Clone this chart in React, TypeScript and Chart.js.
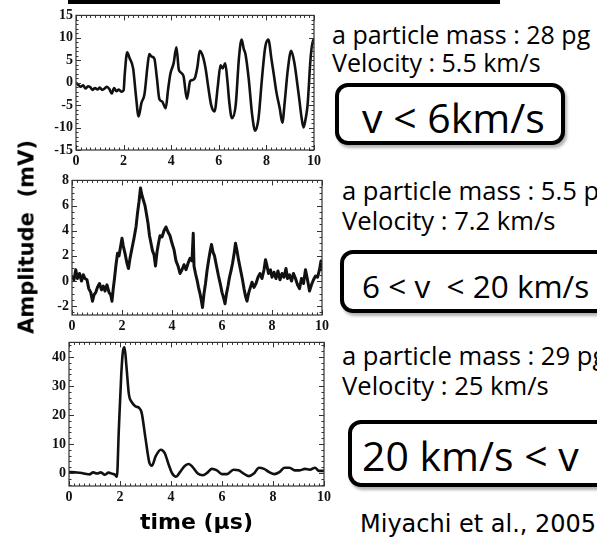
import React, { useEffect, useRef } from "react";
import { Chart, registerables } from "chart.js";
Chart.register(...registerables);

// ---------- data ----------
const TIME_TICKS = [0, 2, 4, 6, 8, 10];

const TOP_T = [0, 0.1, 0.2, 0.3, 0.4, 0.5, 0.6, 0.7, 0.8, 0.9, 1.0, 1.1, 1.2, 1.3, 1.4, 1.5, 1.6, 1.7, 1.8, 1.9, 2.0,
  2.05, 2.15, 2.25, 2.4, 2.52, 2.63, 2.75, 2.88, 3.0, 3.08, 3.18, 3.29, 3.4, 3.5, 3.62, 3.77, 3.87, 3.97, 4.1, 4.22,
  4.32, 4.42, 4.52, 4.66, 4.8, 4.9, 5.0, 5.1, 5.2, 5.34, 5.45, 5.55, 5.68, 5.82, 5.96, 6.07, 6.16, 6.27, 6.36, 6.44,
  6.55, 6.71, 6.85, 6.96, 7.05, 7.12, 7.26, 7.4, 7.53, 7.67, 7.81, 7.95, 8.08, 8.22, 8.32, 8.42, 8.56, 8.67, 8.77,
  8.9, 9.04, 9.18, 9.28, 9.38, 9.47, 9.56, 9.65, 9.73, 9.86, 9.97, 10.0];
const TOP_MV = [0, -0.5, -0.9, -0.6, -1.3, -0.8, -1.0, -1.6, -1.2, -1.5, -1.1, -1.6, -1.3, -0.9, -1.4, -2.4, -1.2, -1.9, -1.5, -2.0, -1.7,
  2.0, 6.8, 5.5, 3.2, -3.0, -7.5, -4.5, -2.5, 3.5, 6.4, 5.8, 5.4, 1.0, -3.6, -4.2, -5.7, -1.5, 2.1, 4.3, 7.9,
  2.9, 2.2, 1.4, -3.6, 0.4, 0.6, 1.1, 3.5, 7.1, 5.7, 3.0, -0.7, -5.0, -6.4, -0.7, 3.9, 3.2, 4.3, 0.5, -4.3,
  -7.9, -5.0, 5.7, 9.6, 7.5, 6.4, 0.7, -7.1, -10.7, -7.9, 0.7, 7.9, 9.6, 5.0, 1.5, -2.1, -5.7, -8.9, -4.3,
  2.9, 7.1, 4.3, 0.5, -3.6, -7.5, -10.0, -8.0, -5.0, 5.7, 9.6, 8.5];
const TOP_Y_TICKS = [-15, -10, -5, 0, 5, 10, 15];

const MID_T = [0.0, 0.08, 0.15, 0.22, 0.3, 0.38, 0.45, 0.52, 0.6, 0.67, 0.75, 0.82, 0.88, 0.95, 1.02, 1.1, 1.18, 1.25,
  1.32, 1.4, 1.48, 1.55, 1.6, 1.65, 1.7, 1.76, 1.82, 1.88, 1.94, 2.0, 2.05, 2.12, 2.2, 2.26, 2.32, 2.4, 2.48, 2.56,
  2.62, 2.68, 2.74, 2.8, 2.86, 2.92, 2.98, 3.04, 3.1, 3.16, 3.22, 3.28, 3.34, 3.4, 3.46, 3.52, 3.6, 3.68, 3.76, 3.84,
  3.92, 4.0, 4.08, 4.16, 4.24, 4.32, 4.4, 4.48, 4.56, 4.64, 4.72, 4.8, 4.85, 4.88, 4.94, 5.0, 5.06, 5.12, 5.18, 5.22,
  5.28, 5.34, 5.4, 5.46, 5.52, 5.58, 5.64, 5.7, 5.78, 5.86, 5.94, 6.0, 6.06, 6.12, 6.18, 6.24, 6.3, 6.36, 6.42, 6.48,
  6.54, 6.6, 6.66, 6.74, 6.82, 6.88, 6.94, 7.0, 7.06, 7.12, 7.2, 7.28, 7.36, 7.44, 7.52, 7.6, 7.68, 7.74, 7.8, 7.86,
  7.94, 8.0, 8.08, 8.16, 8.24, 8.32, 8.4, 8.48, 8.56, 8.62, 8.7, 8.78, 8.86, 8.94, 9.02, 9.1, 9.18, 9.26, 9.34, 9.42,
  9.5, 9.58, 9.66, 9.74, 9.82, 9.9, 9.96, 10.0];
const MID_MV = [0.4, 0.1, 0.9, 0.2, 0.6, 0.0, 0.5, 0.2, 0.1, -0.6, -0.9, -1.6, -1.1, -0.9, -0.5, -0.2, -0.7, -0.4,
  -0.8, -0.3, -0.9, -1.1, -1.6, -0.6, 0.2, 1.3, 2.2, 2.0, 2.7, 3.4, 2.8, 2.2, 1.4, 1.0, 1.8, 2.6, 3.4, 4.3,
  5.4, 6.3, 7.4, 6.8, 6.4, 6.0, 5.3, 4.6, 3.6, 3.0, 2.4, 2.1, 1.2, 2.3, 3.0, 3.6, 3.5, 4.0, 4.3, 3.9,
  3.6, 3.0, 2.5, 1.6, 1.2, 0.6, 0.9, 1.3, 0.9, 1.4, 1.8, 1.6, 3.8, 1.2, 0.6, 0.1, -0.5, -1.0, -1.6, -2.1,
  -1.0, -0.2, 0.8, 1.6, 2.3, 2.9, 2.3, 2.0, 1.2, 0.4, -0.3, -0.9, -1.3, -1.8, -1.0, -0.4, 0.3, 0.8, 1.4, 2.1,
  3.0, 2.4, 1.7, 0.9, 0.1, -0.6, -1.2, -1.6, -1.0, -0.6, -0.1, -0.5, -0.2, 0.3, 0.6, 0.2, 0.9, 1.7, 1.2, 0.6,
  0.9, 0.3, 0.7, 0.2, 0.8, 0.1, 0.6, 0.3, 1.0, 0.2, 0.5, 0.0, 0.6, 0.2, -0.3, -0.6, 0.2, -0.2, 0.9, 0.1,
  -0.8, -0.3, 0.1, 0.4, 0.3, 0.9, 1.6, 0.8];
const MID_Y_TICKS = [-2, 0, 2, 4, 6, 8];

const BOT_T = [0, 0.25, 0.5, 0.65, 0.8, 0.95, 1.1, 1.25, 1.4, 1.55, 1.7, 1.8, 1.88, 1.95, 2.05, 2.12, 2.18, 2.25, 2.35,
  2.45, 2.6, 2.75, 2.85, 3.0, 3.15, 3.25, 3.4, 3.6, 3.75, 3.9, 4.05, 4.2, 4.35, 4.55, 4.7, 4.85, 5.05, 5.25, 5.45,
  5.6, 5.8, 6.0, 6.2, 6.45, 6.65, 6.85, 7.05, 7.25, 7.45, 7.65, 7.85, 8.05, 8.25, 8.45, 8.65, 8.85, 9.05, 9.25, 9.45,
  9.65, 9.8, 10];
const BOT_MV = [0.3, 0.2, 0, -0.3, -0.5, 0.2, -0.2, 0.2, -0.6, 0.1, -0.3, -0.6, -1.3, 14, 34, 42.2, 43.3, 37, 27,
  24.6, 23, 22.4, 20.7, 11.9, 3.6, 2.5, 5.8, 8.0, 6.9, 3.1, -0.2, -1.3, 0.3, 2.5, 3.1, 2.0, -0.2, -0.8, 0.3,
  1.4, 0.9, -0.4, -0.4, 1.1, 0.9, -0.2, -1.1, -0.2, 1.8, 1.4, 0.3, -0.4, 0.3, 1.8, 1.8, 0.9, 0.9, 1.4, 1.1,
  1.8, 0.7, 0.7];
const BOT_Y_TICKS = [0, 10, 20, 30, 40];

// ---------- chart ----------
const AXW = 40;
const AXH = 24;
const PAD = 6;
const TICK_FONT = { family: "'Liberation Serif', serif", size: 14, weight: "bold" as const };

type Box = { l: number; t: number; r: number; b: number };
type ScopeProps = {
  t: number[];
  mv: number[];
  yTicks: number[];
  yMin: number;
  yMax: number;
  yMinor: number;
  box: Box;
  lw: number;
  smooth: boolean;
};

function Scope(p: ScopeProps) {
  const ref = useRef<HTMLCanvasElement>(null);
  const w = AXW + (p.box.r - p.box.l) + PAD;
  const h = PAD + (p.box.b - p.box.t) + AXH;
  useEffect(() => {
    const frame = {
      id: "frame",
      afterDraw(chart: any) {
        const { ctx, chartArea } = chart;
        const { left, right, top, bottom } = chartArea;
        const xs = chart.scales.x;
        const ys = chart.scales.y;
        ctx.save();
        ctx.strokeStyle = "#333";
        ctx.lineWidth = 1.2;
        ctx.strokeRect(left, top, right - left, bottom - top);
        ctx.lineWidth = 1;
        ctx.beginPath();
        for (let i = 0; i <= 50; i++) {
          const v = i * 0.2;
          const px = Math.round(xs.getPixelForValue(v)) + 0.5;
          const len = i % 10 === 0 ? 5 : 2.5;
          ctx.moveTo(px, bottom);
          ctx.lineTo(px, bottom - len);
          ctx.moveTo(px, top);
          ctx.lineTo(px, top + len);
        }
        const n = Math.round((p.yMax - p.yMin) / p.yMinor);
        const start = Math.ceil(p.yMin / p.yMinor) * p.yMinor;
        for (let i = 0; i <= n + 1; i++) {
          const v = start + i * p.yMinor;
          if (v > p.yMax + 1e-9) break;
          const py = Math.round(ys.getPixelForValue(v)) + 0.5;
          const major = p.yTicks.some((tv) => Math.abs(tv - v) < 1e-6);
          const len = major ? 5 : 2.5;
          ctx.moveTo(left, py);
          ctx.lineTo(left + len, py);
          ctx.moveTo(right, py);
          ctx.lineTo(right - len, py);
        }
        ctx.stroke();
        ctx.restore();
      },
    };
    const chart = new Chart(ref.current as HTMLCanvasElement, {
      type: "line",
      data: {
        datasets: [
          {
            data: p.t.map((x, i) => ({ x, y: p.mv[i] })),
            borderColor: "#111",
            borderWidth: p.lw,
            pointRadius: 0,
            fill: false,
            tension: p.smooth ? 0.4 : 0,
            cubicInterpolationMode: p.smooth ? "monotone" : "default",
            borderJoinStyle: "round",
          } as any,
        ],
      },
      options: {
        animation: false,
        responsive: false,
        devicePixelRatio: 1,
        events: [],
        layout: { padding: { top: PAD, right: PAD, left: 0, bottom: 0 }, autoPadding: false } as any,
        plugins: { legend: { display: false }, tooltip: { enabled: false } },
        scales: {
          x: {
            type: "linear",
            min: 0,
            max: 10,
            grid: { display: false, drawTicks: false },
            border: { display: false },
            afterBuildTicks: (s: any) => {
              s.ticks = TIME_TICKS.map((v) => ({ value: v }));
            },
            afterFit: (s: any) => {
              s.height = AXH;
            },
            ticks: { font: TICK_FONT, color: "#111", padding: 3, maxRotation: 0, autoSkip: false },
          },
          y: {
            type: "linear",
            min: p.yMin,
            max: p.yMax,
            grid: { display: false, drawTicks: false },
            border: { display: false },
            afterBuildTicks: (s: any) => {
              s.ticks = p.yTicks.map((v) => ({ value: v }));
            },
            afterFit: (s: any) => {
              s.width = AXW;
            },
            ticks: { font: TICK_FONT, color: "#111", padding: 3, autoSkip: false },
          },
        },
      },
      plugins: [frame],
    });
    return () => chart.destroy();
  }, []);
  return (
    <canvas
      ref={ref}
      width={w}
      height={h}
      style={{ position: "absolute", left: p.box.l - AXW, top: p.box.t - PAD, width: w, height: h }}
    />
  );
}

// ---------- text helpers ----------
const ANNO = "'Open Sans', sans-serif";
const REF = "'DejaVu Sans', sans-serif";
const BOLD = "'DejaVu Sans', sans-serif";

function Txt(props: { x: number; base: number; size: number; family: string; weight?: number; children: any; spacing?: number }) {
  return (
    <div
      style={{
        position: "absolute",
        left: props.x,
        top: props.base - 0.85 * props.size,
        fontSize: props.size,
        lineHeight: `${props.size}px`,
        fontFamily: props.family,
        fontWeight: props.weight ?? 400,
        letterSpacing: props.spacing ?? 0,
        whiteSpace: "nowrap",
        color: "#000",
      }}
    >
      {props.children}
    </div>
  );
}

function RBox(props: { l: number; t: number; r: number; b: number }) {
  return (
    <div
      style={{
        position: "absolute",
        left: props.l,
        top: props.t,
        width: props.r - props.l,
        height: props.b - props.t,
        boxSizing: "border-box",
        border: "4px solid #000",
        borderRadius: 13,
        boxShadow: "2px 3px 3px rgba(0,0,0,0.3)",
        background: "#fff",
      }}
    />
  );
}

export default function App() {
  return (
    <div
      style={{
        position: "fixed",
        left: 0,
        top: 0,
        width: 597,
        height: 540,
        background: "#fff",
        overflow: "hidden",
      }}
    >
      <div style={{ position: "absolute", left: 68, top: 0, width: 432, height: 4, background: "#000" }} />

      <Scope t={TOP_T} mv={TOP_MV} yTicks={TOP_Y_TICKS} yMin={-15} yMax={15} yMinor={1}
        box={{ l: 76, t: 10, r: 318, b: 150 }} lw={2.6} smooth={true} />
      <Scope t={MID_T} mv={MID_MV} yTicks={MID_Y_TICKS} yMin={-2.7} yMax={8} yMinor={0.5}
        box={{ l: 72, t: 175, r: 326, b: 315 }} lw={3} smooth={false} />
      <Scope t={BOT_T} mv={BOT_MV} yTicks={BOT_Y_TICKS} yMin={-4.5} yMax={45} yMinor={2}
        box={{ l: 69, t: 337, r: 328, b: 486 }} lw={2.6} smooth={true} />

      <Txt x={332} base={43} size={25} family={ANNO}>a particle mass : 28 pg</Txt>
      <Txt x={332} base={71} size={25} family={ANNO}>Velocity : 5.5 km/s</Txt>
      <RBox l={335} t={83} r={565} b={145} />
      <Txt x={362} base={132} size={41} family={ANNO}>v &lt; 6km/s</Txt>

      <Txt x={342} base={200} size={25.6} family={ANNO}>a particle mass : 5.5 pg</Txt>
      <Txt x={342} base={230} size={25.6} family={ANNO}>Velocity : 7.2 km/s</Txt>
      <RBox l={340} t={250} r={612} b={313} />
      <Txt x={362} base={297} size={31.5} family={ANNO}>6 &lt; v&nbsp; &lt; 20 km/s</Txt>

      <Txt x={342} base={365} size={25.6} family={ANNO}>a particle mass : 29 pg</Txt>
      <Txt x={342} base={395} size={25.6} family={ANNO}>Velocity : 25 km/s</Txt>
      <RBox l={348} t={420} r={612} b={487} />
      <Txt x={362} base={470} size={41} family={ANNO}>20 km/s &lt; v</Txt>

      <Txt x={360} base={532} size={24} family={REF}>Miyachi et al., 2005</Txt>

      <Txt x={140} base={530} size={22} family={BOLD} weight={700}>time (μs)</Txt>
      <div
        style={{
          position: "absolute",
          left: 27,
          top: 237,
          transform: "translate(-50%, -50%) rotate(-90deg)",
          fontFamily: BOLD,
          fontWeight: 700,
          fontSize: 21,
          lineHeight: "21px",
          whiteSpace: "nowrap",
          color: "#000",
        }}
      >
        Amplitude&nbsp; (mV)
      </div>
    </div>
  );
}
